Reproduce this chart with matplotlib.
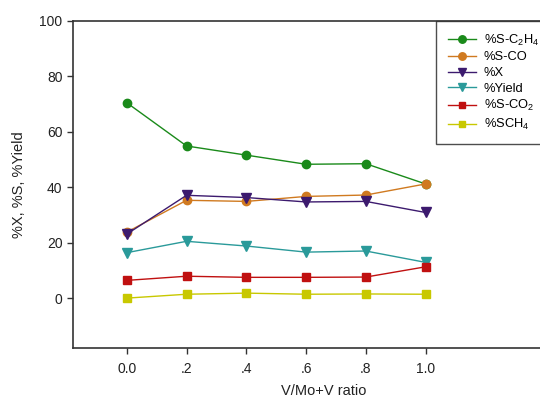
import matplotlib
matplotlib.use("Agg")
import matplotlib.pyplot as plt

plt.rcParams['font.family'] = ['Liberation Sans', 'DejaVu Sans']
plt.rcParams['mathtext.fontset'] = 'custom'
plt.rcParams['mathtext.rm'] = 'Liberation Sans'
plt.rcParams['mathtext.it'] = 'Liberation Sans'

x = [0.0, 0.2, 0.4, 0.6, 0.8, 1.0]
xtick_labels = ["0.0", ".2", ".4", ".6", ".8", "1.0"]
s_c2h4 = [70.5, 54.9, 51.6, 48.3, 48.5, 41.2]
s_co = [23.8, 35.3, 34.9, 36.7, 37.2, 41.2]
conv_x = [23.1, 37.1, 36.3, 34.7, 34.9, 30.9]
yield_ = [16.4, 20.5, 18.8, 16.6, 17.0, 12.9]
s_co2 = [6.4, 7.9, 7.5, 7.5, 7.6, 11.3]
s_ch4 = [0.0, 1.4, 1.8, 1.4, 1.5, 1.4]

fig = plt.figure(figsize=(5.4, 3.99), dpi=100)
ax = fig.add_axes([73/540, 1-348/399, 502/540, 327/399])

ms = 6
lw = 1.0
ax.plot(x, s_c2h4, color='#1a8a1a', marker='o', ms=ms, lw=lw, label='%S-C$_2$H$_4$')
ax.plot(x, s_co, color='#d07a20', marker='o', ms=ms, lw=lw, label='%S-CO')
ax.plot(x, conv_x, color='#3c1a6e', marker='v', ms=ms+1, lw=lw, label='%X')
ax.plot(x, yield_, color='#2a9a9a', marker='v', ms=ms+1, lw=lw, label='%Yield')
ax.plot(x, s_co2, color='#c01010', marker='s', ms=ms-0.5, lw=lw, label='%S-CO$_2$')
ax.plot(x, s_ch4, color='#c8c800', marker='s', ms=ms-0.5, lw=lw, label='%SCH$_4$')

ax.set_xlim(-0.18, 1.5)
ax.set_ylim(-18, 100)
ax.set_xticks(x)
ax.set_xticklabels(xtick_labels)
ax.set_yticks([0, 20, 40, 60, 80, 100])
ax.tick_params(axis='both', labelsize=10, direction='out', length=4, width=1, color='#333333', labelcolor='#222222')
ax.tick_params(axis='x', pad=6)
for s in ['left', 'bottom', 'top', 'right']:
    ax.spines[s].set_linewidth(1.2)
    ax.spines[s].set_color('#333333')

ax.set_xlabel('V/Mo+V ratio', fontsize=10.5, labelpad=6, color='#222222')
ax.set_ylabel('%X, %S, %Yield', fontsize=10.5, labelpad=10, color='#222222')

leg = ax.legend(loc='upper left', bbox_to_anchor=(436/540, 1-21/399), bbox_transform=fig.transFigure,
                fontsize=9.3, frameon=True, fancybox=False, edgecolor='#222222', borderaxespad=0,
                handlelength=2.2, labelspacing=0.28, borderpad=0.9, handletextpad=0.6, markerscale=0.9)
leg.get_frame().set_linewidth(1.0)

fig.savefig('out.png', dpi=100)
